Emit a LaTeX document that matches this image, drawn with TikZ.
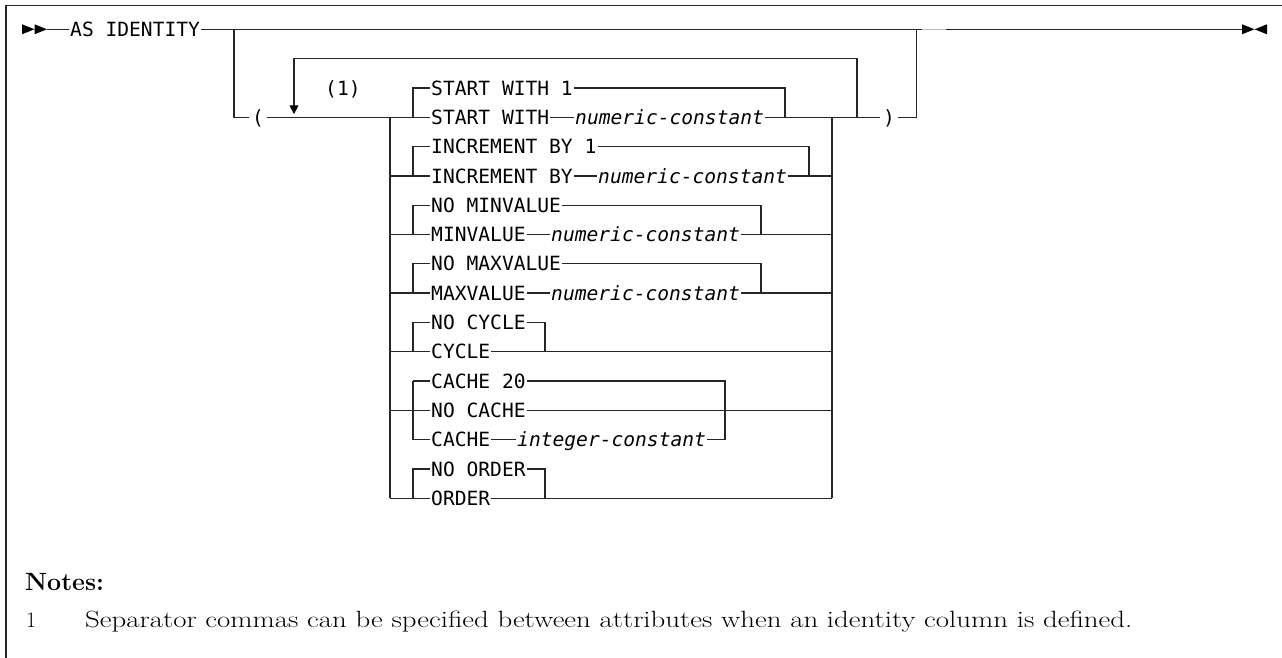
\documentclass[tikz,border=0pt]{standalone}
\usepackage{fontspec}
\newfontfamily\monof{DejaVu Sans Mono}
\usetikzlibrary{arrows.meta}
\begin{document}
\begin{tikzpicture}[x=1pt,y=-1pt,
  ln/.style={line width=1.3pt, draw=black!85},
  kw/.style={font={\monof\fontsize{19.6pt}{22pt}\selectfont}, inner xsep=1pt, inner ysep=0pt, text height=14.3pt, text depth=0pt, anchor=west},
  var/.style={kw, font={\monof\itshape\fontsize{19.6pt}{22pt}\selectfont}},
  paren/.style={kw, inner xsep=3pt},
  tipfill/.style={fill=black},
  notetxt/.style={anchor=base west, inner sep=0pt, font={\fontsize{22pt}{26pt}\selectfont}}
]
\useasboundingbox (0,0) rectangle (1282,658);
% frame
\draw[line width=1.5pt, black!85] (6,658) -- (6,5.7) -- (1282,5.7);

% main line
\fill[tipfill] (22,24.3) -- (34.5,29.3) -- (22,34.3) -- cycle;
\fill[tipfill] (34.5,24.3) -- (47,29.3) -- (34.5,34.3) -- cycle;
\coordinate (st) at (47,29.3);
\node[kw] (asid) at (69,29.3) {AS IDENTITY};
\coordinate (br) at (234,29.3);
\coordinate (endx) at (1243,29.3);
\draw[ln] (st) -- (asid.west);
\draw[ln] (asid.east) -- (endx);
\draw[gray!55, line width=1.3pt] (922,29.3) -- (946,29.3);
\fill[tipfill] (1242,24.3) -- (1254.5,29.3) -- (1242,34.3) -- cycle;
\fill[tipfill] (1267,24.3) -- (1254.5,29.3) -- (1267,34.3) -- cycle;

% optional branch with parentheses
\node[paren] (lp) at (249,117.3) {(};
\node[paren] (rp) at (880,117.3) {)};
\draw[ln] (br) -- (234,117.3) -- (lp.west);
\coordinate (rup) at (916.7,29.3);
\draw[ln] (rp.east) -- (916.7,117.3) -- (rup);

% repeat loop
\node[kw] (one) at (324,88) {(1)};
\draw[ln] (857,117.3) -- (857,58.7) -- (294,58.7) -- (294,108);
\fill[tipfill] (289.5,105.5) -- (298.5,105.5) -- (294,114) -- cycle;

% outer stack verticals
\draw[ln] (390,117.3) -- (390,498.2);
\draw[ln] (832,117.3) -- (832,498.2);

% START WITH
\node[kw] (sw1) at (430,88) {START WITH 1};
\node[kw] (sw) at (430,117.3) {START WITH};
\node[var] (swn) at (574,117.3) {numeric-constant};
\draw[ln] (lp.east) -- (sw.west);
\draw[ln] (413,117.3) -- (413,88) -- (sw1.west);
\draw[ln] (sw1.east) -- (785,88) -- (785,117.3);
\draw[ln] (sw.east) -- (swn.west);
\draw[ln] (swn.east) -- (rp.west);

% INCREMENT BY
\node[kw] (ib1) at (430,146.6) {INCREMENT BY 1};
\node[kw] (ib) at (430,175.9) {INCREMENT BY};
\node[var] (ibn) at (597,175.9) {numeric-constant};
\draw[ln] (390,175.9) -- (ib.west);
\draw[ln] (413,175.9) -- (413,146.6) -- (ib1.west);
\draw[ln] (ib1.east) -- (809,146.6) -- (809,175.9);
\draw[ln] (ib.east) -- (ibn.west);
\draw[ln] (ibn.east) -- (832,175.9);

% MINVALUE
\node[kw] (mi1) at (430,205.2) {NO MINVALUE};
\node[kw] (mi) at (430,234.5) {MINVALUE};
\node[var] (min) at (550,234.5) {numeric-constant};
\draw[ln] (390,234.5) -- (mi.west);
\draw[ln] (413,234.5) -- (413,205.2) -- (mi1.west);
\draw[ln] (mi1.east) -- (761,205.2) -- (761,234.5);
\draw[ln] (mi.east) -- (min.west);
\draw[ln] (min.east) -- (832,234.5);

% MAXVALUE
\node[kw] (ma1) at (430,263.8) {NO MAXVALUE};
\node[kw] (ma) at (430,293.1) {MAXVALUE};
\node[var] (man) at (550,293.1) {numeric-constant};
\draw[ln] (390,293.1) -- (ma.west);
\draw[ln] (413,293.1) -- (413,263.8) -- (ma1.west);
\draw[ln] (ma1.east) -- (761,263.8) -- (761,293.1);
\draw[ln] (ma.east) -- (man.west);
\draw[ln] (man.east) -- (832,293.1);

% CYCLE
\node[kw] (cy1) at (430,322.4) {NO CYCLE};
\node[kw] (cy) at (430,351.7) {CYCLE};
\draw[ln] (390,351.7) -- (cy.west);
\draw[ln] (413,351.7) -- (413,322.4) -- (cy1.west);
\draw[ln] (cy1.east) -- (545,322.4) -- (545,351.7);
\draw[ln] (cy.east) -- (832,351.7);

% CACHE
\node[kw] (ca1) at (430,381) {CACHE 20};
\node[kw] (ca2) at (430,410.3) {NO CACHE};
\node[kw] (ca) at (430,439.6) {CACHE};
\node[var] (can) at (516,439.6) {integer-constant};
\draw[ln] (390,410.3) -- (ca2.west);
\draw[ln] (413,381) -- (413,439.6);
\draw[ln] (413,381) -- (ca1.west);
\draw[ln] (413,439.6) -- (ca.west);
\draw[ln] (ca1.east) -- (725,381) -- (725,439.6);
\draw[ln] (ca.east) -- (can.west);
\draw[ln] (can.east) -- (725,439.6);
\draw[ln] (ca2.east) -- (832,410.3);

% ORDER
\node[kw] (or1) at (430,468.9) {NO ORDER};
\node[kw] (or) at (430,498.2) {ORDER};
\draw[ln] (390,498.2) -- (or.west);
\draw[ln] (413,498.2) -- (413,468.9) -- (or1.west);
\draw[ln] (or1.east) -- (545,468.9) -- (545,498.2);
\draw[ln] (or.east) -- (832,498.2);

% notes
\node[notetxt, font={\fontsize{25pt}{29pt}\selectfont\bfseries}] (nt) at (25,590) {Notes:};
\node[notetxt] (n1) at (26,627) {1};
\node[notetxt] (n1t) at (85,627) {\resizebox{1047pt}{16.5pt}{Separator commas can be specified between attributes when an identity column is defined.}};
\end{tikzpicture}
\end{document}
